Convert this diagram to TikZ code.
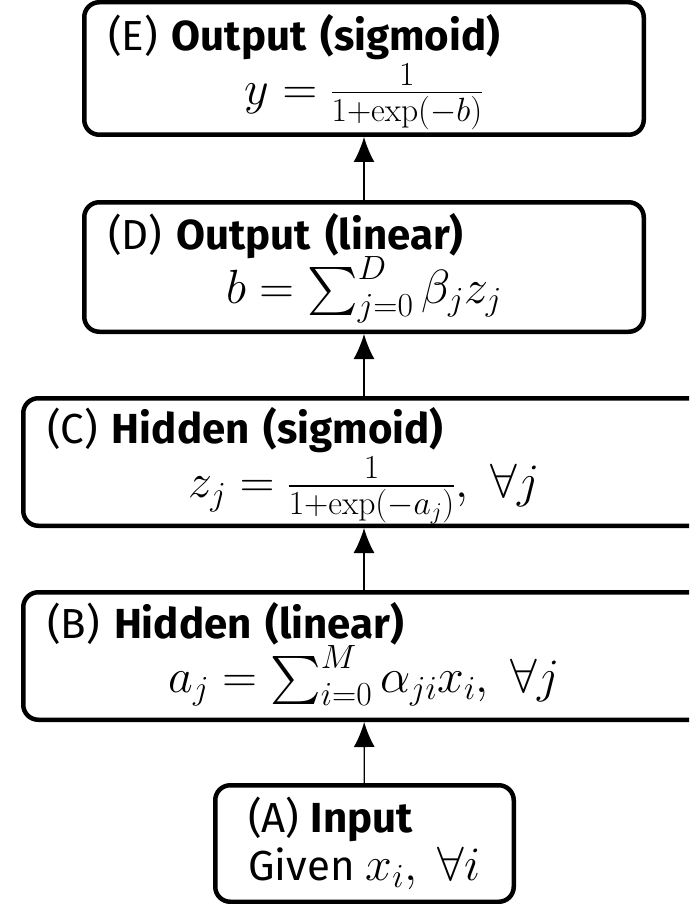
\documentclass[tikz,border=0pt]{standalone}
\usepackage{fix-cm}
\usepackage{amsmath, amssymb}
\usepackage[no-math]{fontspec}
\newfontfamily\layerfont{Fira Sans}
\usetikzlibrary{arrows.meta}
\tikzset{>=latex}
\newcommand{\eqsize}{\fontsize{48}{54}\selectfont\lineskiplimit=-100pt}
\newcommand{\headstrut}{\rule{0pt}{44pt}}
\newcommand{\footstrut}{\rule[-26pt]{0pt}{26pt}}
\tikzset{
  layer/.style 2 args={draw, line width=4.5pt, rounded corners=15pt,
    inner xsep=24pt, inner ysep=0pt, text width=#1-52.5pt, minimum height=#2-4.5pt,
    font=\layerfont\fontsize{42}{46}\selectfont},
  inputbox/.style={draw, line width=4.5pt, rounded corners=15pt, align=left,
    minimum width=298.5pt, minimum height=116.5pt,
    font=\layerfont\fontsize{42}{48}\selectfont},
  feed/.style={-{Latex[length=25pt,width=21pt]}, line width=1.3pt}
}

\begin{document}
\begin{tikzpicture}[x=1pt,y=-1pt]
\useasboundingbox (0,0) rectangle (689,904);
\clip (0,0) rectangle (689,904);

% Layers, bottom to top
\node[inputbox] (A) at (364.5,843.5)
  {(A) \textbf{Input}\\Given {\eqsize$x_i,\ \forall i$}};
\node[layer={686pt}{132pt}] (B) at (364,656)
  {\headstrut(B) \textbf{Hidden (linear)}\par
   {\centering\eqsize $a_j = \sum_{i=0}^M \alpha_{ji} x_i,\ \forall j$\footstrut\par}};
\node[layer={686pt}{132pt}] (C) at (364,462)
  {\headstrut(C) \textbf{Hidden (sigmoid)}\par
   {\centering\eqsize $z_j = \frac{1}{1+\exp(-a_j)},\ \forall j$\footstrut\par}};
\node[layer={564pt}{134pt}] (D) at (364,267)
  {\headstrut(D) \textbf{Output (linear)}\par
   {\centering\eqsize $b = \sum_{j=0}^D \beta_j z_j$\footstrut\par}};
\node[layer={564pt}{137pt}] (E) at (364,68.5)
  {\headstrut(E) \textbf{Output (sigmoid)}\par
   {\centering\eqsize $y = \frac{1}{1+\exp(-b)}$\footstrut\par}};
\coordinate (out) at (364,-40);

% Connections
\draw[feed] (A) -- (B);
\draw[feed] (B) -- (C);
\draw[feed] (C) -- (D);
\draw[feed] (D) -- (E);
\draw[feed] (E) -- (out);
\end{tikzpicture}
\end{document}
